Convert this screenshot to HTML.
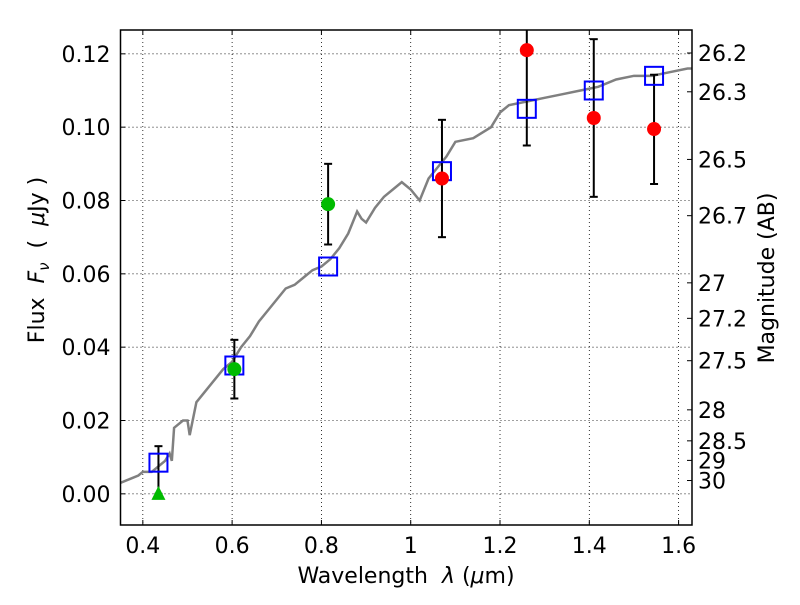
<!DOCTYPE html>
<html><head><meta charset="utf-8"><style>
body{margin:0;background:#fff}
text{font-family:"DejaVu Sans","Liberation Sans",sans-serif;fill:#000;white-space:pre}
</style></head><body>
<svg id="chart" width="800" height="600" xmlns="http://www.w3.org/2000/svg"></svg>
<script>
const specX=[0.35,0.37,0.39,0.40,0.42,0.43,0.44,0.45,0.46,0.465,0.47,0.49,0.50,0.505,0.52,0.54,0.56,0.58,0.60,0.62,0.64,0.66,0.68,0.70,0.72,0.74,0.76,0.78,0.80,0.82,0.84,0.86,0.88,0.89,0.90,0.92,0.94,0.96,0.98,1.00,1.02,1.04,1.06,1.08,1.10,1.14,1.18,1.20,1.22,1.26,1.30,1.34,1.38,1.42,1.46,1.50,1.54,1.58,1.62,1.63];
const specY=[0.003,0.004,0.005,0.006,0.006,0.007,0.008,0.009,0.011,0.009,0.018,0.020,0.020,0.016,0.025,0.028,0.031,0.034,0.036,0.040,0.043,0.047,0.050,0.053,0.056,0.057,0.059,0.061,0.062,0.064,0.067,0.071,0.077,0.075,0.074,0.078,0.081,0.083,0.085,0.083,0.080,0.086,0.089,0.092,0.096,0.097,0.100,0.104,0.106,0.107,0.108,0.109,0.110,0.111,0.113,0.114,0.114,0.115,0.116,0.116];
const modelX=[0.435,0.605,0.815,1.07,1.26,1.41,1.545];
const modelY=[0.0085,0.035,0.062,0.088,0.105,0.110,0.114];
const redX=[1.07,1.26,1.41,1.545];
const redY=[0.086,0.121,0.1025,0.0995];
const redLo=[0.070,0.095,0.081,0.0845];
const redHi=[0.102,0.147,0.124,0.1143];
const greenX=[0.605,0.815];
const greenY=[0.034,0.079];
const greenLo=[0.026,0.068];
const greenHi=[0.042,0.090];
const limX=[0.435];const limY=[0.0];const limHi=[0.013];
const xTicks=[0.4,0.6,0.8,1.0,1.2,1.4,1.6];
const xTickLabels=["0.4","0.6","0.8","1","1.2","1.4","1.6"];
const yTicks=[0,0.02,0.04,0.06,0.08,0.10,0.12];
const yTickLabels=["0.00","0.02","0.04","0.06","0.08","0.10","0.12"];
const magTicks=[26.2,26.3,26.5,26.7,27,27.2,27.5,28,28.5,29,30];

const L=120.5,R=692,T=30,B=525,x0=0.35,x1=1.63,y0=-0.0085,y1=0.1265;
const FS=22;
const sx=v=>L+(v-x0)/(x1-x0)*(R-L);
const sy=v=>B-(v-y0)/(y1-y0)*(B-T);
const svg=document.getElementById('chart');const NS='http://www.w3.org/2000/svg';
function mk(tag,a,parent){const e=document.createElementNS(NS,tag);for(const k in a)e.setAttribute(k,a[k]);(parent||svg).appendChild(e);return e;}
const clip=mk('clipPath',{id:'pc'});mk('rect',{x:L,y:T,width:R-L,height:B-T},clip);
const grid=mk('g',{});


xTicks.forEach((t,i)=>{const x=sx(t);
 mk('line',{x1:x,x2:x,y1:T,y2:B,stroke:'#000','stroke-width':0.8,'stroke-dasharray':'1,3'},grid);
 mk('line',{x1:x,x2:x,y1:B,y2:B-5,stroke:'#000'});mk('line',{x1:x,x2:x,y1:T,y2:T+5,stroke:'#000'});
 const tx=mk('text',{x:x,y:B+28,'font-size':FS,'text-anchor':'middle'});tx.textContent=xTickLabels[i];
 
 
});
yTicks.forEach((t,i)=>{const y=sy(t);
 mk('line',{x1:L,x2:R,y1:y,y2:y,stroke:'#000','stroke-width':0.8,'stroke-dasharray':'1,3'},grid);
 mk('line',{x1:L,x2:L+5,y1:y,y2:y,stroke:'#000'});
 const tx=mk('text',{x:L-10,y:y+8,'font-size':FS,'text-anchor':'end'});tx.textContent=yTickLabels[i];
 
 
});
magTicks.forEach(m=>{const f=Math.pow(10,(23.9-m)/2.5);const y=sy(f);
 mk('line',{x1:R,x2:R-5,y1:y,y2:y,stroke:'#000'});
 const tx=mk('text',{x:R+6,y:y+8,'font-size':FS});tx.textContent=String(m);
 
 
});
const g=mk('g',{'clip-path':'url(#pc)'});
const sp=mk('polyline',{points:specX.map((v,i)=>sx(v)+','+sy(specY[i])).join(' '),fill:'none',stroke:'#808080','stroke-width':2.5},g);


function eb(x,lo,hi){const X=sx(x);mk('line',{x1:X,x2:X,y1:sy(lo),y2:sy(hi),stroke:'#000','stroke-width':2},g);
 [lo,hi].forEach(v=>mk('line',{x1:X-4,x2:X+4,y1:sy(v),y2:sy(v),stroke:'#000','stroke-width':2},g));}
redX.forEach((x,i)=>eb(x,redLo[i],redHi[i]));
greenX.forEach((x,i)=>eb(x,greenLo[i],greenHi[i]));
limX.forEach((x,i)=>eb(x,limY[i],limHi[i]));
modelX.forEach((x,i)=>{const r=mk('rect',{x:sx(x)-9,y:sy(modelY[i])-9,width:18,height:18,fill:'none',stroke:'#0000ff','stroke-width':2},g);
 
 });
redX.forEach((x,i)=>{const c=mk('circle',{cx:sx(x),cy:sy(redY[i]),r:7,fill:'#ff0000'},g);
 
 });
greenX.forEach((x,i)=>{const c=mk('circle',{cx:sx(x),cy:sy(greenY[i]),r:7,fill:'#00bb00'},g);
 
 });
limX.forEach((x,i)=>{const X=sx(x),Y=sy(limY[i]);const p=mk('polygon',{points:`${X},${Y-8} ${X-7},${Y+6} ${X+7},${Y+6}`,fill:'#00bb00'},g);
 
 });
const fr=mk('rect',{x:L,y:T,width:R-L,height:B-T,fill:'none',stroke:'#000','stroke-width':1.5});


const xl=mk('text',{x:406,y:583,'font-size':FS,'text-anchor':'middle'});xl.innerHTML='Wavelength  <tspan font-style="italic">λ</tspan> (<tspan font-style="italic">μ</tspan>m)';


const yl=mk('text',{x:0,y:0,'font-size':FS,'text-anchor':'middle',transform:'translate(44,260) rotate(-90)'});yl.innerHTML='Flux  <tspan font-style="italic">F</tspan><tspan font-style="italic" font-size="15" dy="5">ν</tspan><tspan dy="-5">  (  </tspan><tspan font-style="italic">μ</tspan>Jy )';


const ml=mk('text',{x:0,y:0,'font-size':FS,'text-anchor':'middle',transform:'translate(774,278) rotate(-90)'});ml.textContent='Magnitude (AB)';


</script>
</body></html>
